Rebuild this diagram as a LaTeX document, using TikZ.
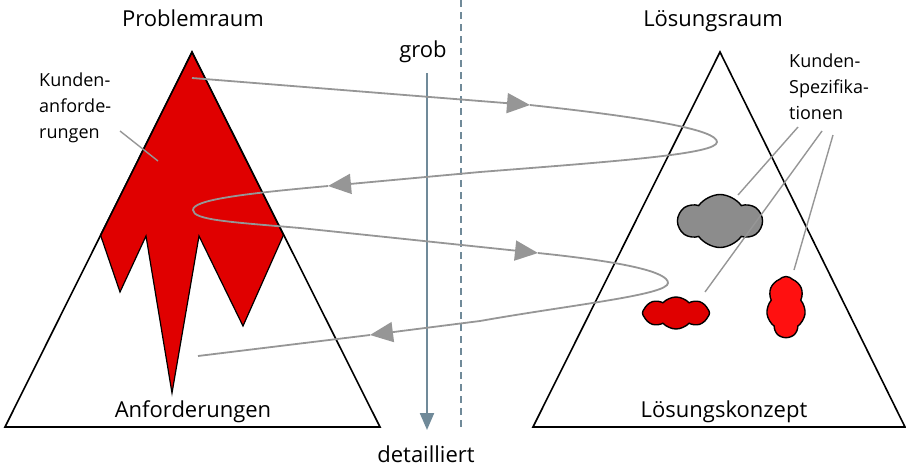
\documentclass[tikz,border=0pt]{standalone}
\usepackage{fontspec}
\setmainfont{Open Sans}
\usetikzlibrary{shapes.symbols,arrows.meta,positioning}
\definecolor{spiralgray}{RGB}{150,150,150}
\definecolor{axisblue}{RGB}{112,138,153}
\definecolor{probred}{RGB}{224,0,0}
\definecolor{specred}{RGB}{255,16,16}
\definecolor{cloudgray}{RGB}{140,140,140}

\begin{document}
\begin{tikzpicture}[
    x=1pt, y=-1pt,
    title/.style={font=\fontsize{22}{26}\selectfont, anchor=base, inner sep=0pt},
    note/.style={font=\fontsize{18}{26}\selectfont, align=left, anchor=north west, inner sep=0pt},
    space/.style={draw=black, line width=1.6pt, line join=miter},
    spiral/.style={draw=spiralgray, line width=1.8pt},
    spiralarrow/.style={spiral, -{Triangle[length=23pt, width=20pt]}},
    leader/.style={draw=spiralgray, line width=1.4pt},
    spec/.style={cloud, cloud puffs=8, cloud puff arc=95, draw=black, line width=1.4pt, inner sep=0pt}
]
    \useasboundingbox (0,0) rectangle (906,474);

    % Problem space
    \filldraw[probred, draw=black, line width=1.2pt, line join=miter]
        (192,52) -- (100.5,235) -- (120,292) -- (146,236) -- (172,393)
        -- (199,236) -- (243,326) -- (283.5,235) -- cycle;
    \draw[space] (5,427) -- (192,52) -- (380,427) -- cycle;
    \node[title] (prob) at (193,26) {Problemraum};
    \node[title] (anf) at (193,417) {Anforderungen};
    \node[note] (kanf) at (39,73) {Kunden-\\anforde-\\rungen};

    % Solution space
    \draw[space] (533,427) -- (720,52) -- (905,427) -- cycle;
    \node[title] (loes) at (713,26) {Lösungsraum};
    \node[title] (konz) at (724,417) {Lösungskonzept};
    \node[note] (kspec) at (789,54) {Kunden-\\Spezifika-\\tionen};

    % Specification clouds
    \node[spec, fill=cloudgray, cloud puffs=6, cloud puff arc=110, aspect=1.6,
          minimum width=83pt, minimum height=53pt] (cgrey) at (720,221) {};
    \node[spec, fill=probred, cloud puffs=8, aspect=2,
          minimum width=67pt, minimum height=32pt] (cleft) at (676,313) {};
    \node[spec, fill=specred, cloud puffs=7, aspect=0.6,
          minimum width=39pt, minimum height=61pt] (cright) at (786,307) {};

    % Leader lines
    \coordinate (l0) at (120,131);
    \coordinate (l1) at (158,161);
    \coordinate (r0) at (798,127);
    \coordinate (r1) at (738,195);
    \coordinate (r2) at (822,131);
    \coordinate (r3) at (705,292);
    \coordinate (r4) at (833,135);
    \coordinate (r5) at (794,270);
    \draw[leader] (l0) -- (l1);
    \draw[leader] (r0) -- (r1);
    \draw[leader] (r2) -- (r3);
    \draw[leader] (r4) -- (r5);

    % Axis grob -> detailliert
    \node[title] (grob) at (423,57) {grob};
    \node[title] (det) at (426,462) {detailliert};
    \coordinate (ax0) at (427,73);
    \coordinate (ax1) at (427,430);
    \draw[axisblue, line width=2.2pt, -{Triangle[length=17pt, width=14pt]}] (ax0) -- (ax1);
    \coordinate (sep0) at (461,0);
    \coordinate (sep1) at (461,430);
    \draw[axisblue, line width=2pt, dash pattern=on 7pt off 5pt] (sep0) -- (sep1);

    % Spiral between the two spaces
    \coordinate (s0) at (192,78);
    \coordinate (a1) at (530,105);
    \coordinate (b1) at (480,172);
    \coordinate (a2) at (328,186);
    \coordinate (b2) at (300,228);
    \coordinate (a3) at (538,253);
    \coordinate (b3) at (480,321);
    \coordinate (a4) at (370,335);
    \coordinate (s1) at (198,356);
    \draw[spiralarrow] (s0) -- (a1);
    \draw[spiral] (a1) .. controls (650,118) and (717,130) .. (717,142)
        .. controls (717,154) and (620,161) .. (b1);
    \draw[spiralarrow] (b1) -- (a2);
    \draw[spiral] (a2) .. controls (240,194) and (193,200) .. (193,210)
        .. controls (193,220) and (230,222) .. (b2);
    \draw[spiralarrow] (b2) -- (a3);
    \draw[spiral] (a3) .. controls (625,262) and (668,272) .. (668,283)
        .. controls (668,295) and (570,305) .. (b3);
    \draw[spiralarrow] (b3) -- (a4);
    \draw[spiral] (a4) -- (s1);

\end{tikzpicture}
\end{document}
